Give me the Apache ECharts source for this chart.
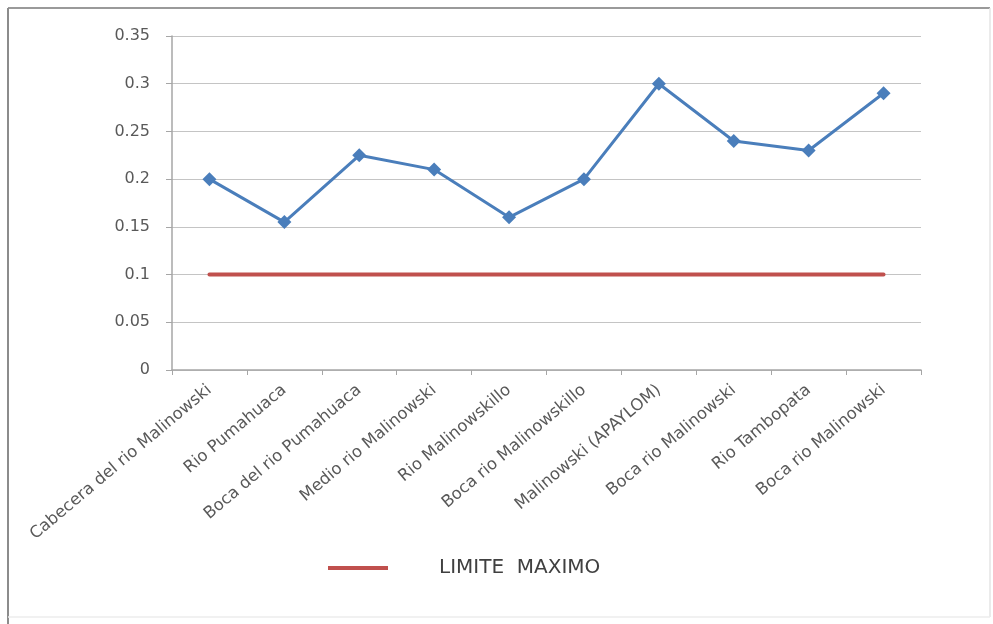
<!DOCTYPE html>
<html>
<head>
<meta charset="utf-8">
<script src="https://cdn.jsdelivr.net/npm/echarts@6/dist/echarts.min.js"></script>
<style>
  html, body { margin: 0; padding: 0; background: #ffffff; }
  #chart { width: 993px; height: 624px; }
</style>
</head>
<body>
<div id="chart"></div>
<script>
// Sampling stations along the river
const stations = [
  'Cabecera del rio Malinowski',
  'Rio Pumahuaca',
  'Boca del rio Pumahuaca',
  'Medio rio Malinowski',
  'Rio Malinowskillo',
  'Boca rio Malinowskillo',
  'Malinowski (APAYLOM)',
  'Boca rio Malinowski',
  'Rio Tambopata',
  'Boca rio Malinowski'
];

// Measured concentration at each station
const measured = [0.2, 0.155, 0.225, 0.21, 0.16, 0.2, 0.3, 0.24, 0.23, 0.29];

// Maximum permitted limit, same at every station
const limitName = 'LIMITE  MAXIMO';
const limitValues = [0.1, 0.1, 0.1, 0.1, 0.1, 0.1, 0.1, 0.1, 0.1, 0.1];

// Value axis range
const yMin = 0;
const yMax = 0.35;
const yStep = 0.05;

const textColor = '#595959';
const fontFamily = '"DejaVu Sans", sans-serif';

const chart = echarts.init(document.getElementById('chart'), null, { renderer: 'canvas' });

chart.setOption({
  backgroundColor: '#ffffff',
  animation: false,
  textStyle: { fontFamily: fontFamily, color: textColor },
  graphic: [
    // chart frame: darker left/top edges, faint right/bottom edges
    { type: 'line', shape: { x1: 8, y1: 8, x2: 990, y2: 8 }, style: { stroke: '#9a9a9a', lineWidth: 2 } },
    { type: 'line', shape: { x1: 8, y1: 8, x2: 8, y2: 624 }, style: { stroke: '#8c8c8c', lineWidth: 2 } },
    { type: 'line', shape: { x1: 990, y1: 8, x2: 990, y2: 617 }, style: { stroke: '#e4e4e4', lineWidth: 1.5 } },
    { type: 'line', shape: { x1: 8, y1: 617, x2: 990, y2: 617 }, style: { stroke: '#ececec', lineWidth: 1.5 } }
  ],
  grid: { left: 172, right: 72, top: 36, bottom: 254, containLabel: false },
  legend: {
    data: [limitName],
    left: 323,
    top: 553,
    icon: 'rect',
    itemWidth: 60,
    itemHeight: 4,
    textStyle: { fontSize: 20, color: '#404040', fontFamily: fontFamily, padding: [0, 0, 0, 46] }
  },
  xAxis: {
    type: 'category',
    data: stations,
    boundaryGap: true,
    axisLine: { show: true, lineStyle: { color: '#a6a6a6', width: 1.5 } },
    axisTick: { show: true, alignWithLabel: false, length: 5, lineStyle: { color: '#a6a6a6' } },
    axisLabel: {
      interval: 0,
      rotate: 40,
      margin: 18,
      fontSize: 16.5,
      color: textColor,
      fontFamily: fontFamily
    },
    splitLine: { show: false }
  },
  yAxis: {
    type: 'value',
    min: yMin,
    max: yMax,
    interval: yStep,
    axisLine: { show: true, lineStyle: { color: '#a6a6a6', width: 1.5 } },
    axisTick: { show: true, length: 6, lineStyle: { color: '#a6a6a6' } },
    axisLabel: {
      margin: 22,
      fontSize: 16,
      color: textColor,
      fontFamily: fontFamily,
      formatter: function (v) { return String(parseFloat(v.toFixed(2))); }
    },
    splitLine: { show: true, lineStyle: { color: '#c4c4c4', width: 1.2 } }
  },
  series: [
    {
      name: limitName,
      type: 'line',
      data: limitValues,
      symbol: 'none',
      lineStyle: { color: '#c0504d', width: 4, cap: 'round' },
      itemStyle: { color: '#c0504d' },
      z: 2
    },
    {
      name: 'Concentración',
      type: 'line',
      data: measured,
      symbol: 'diamond',
      symbolSize: 14,
      lineStyle: { color: '#4a7ebb', width: 3 },
      itemStyle: { color: '#4a7ebb' },
      z: 3
    }
  ]
});
</script>
</body>
</html>
